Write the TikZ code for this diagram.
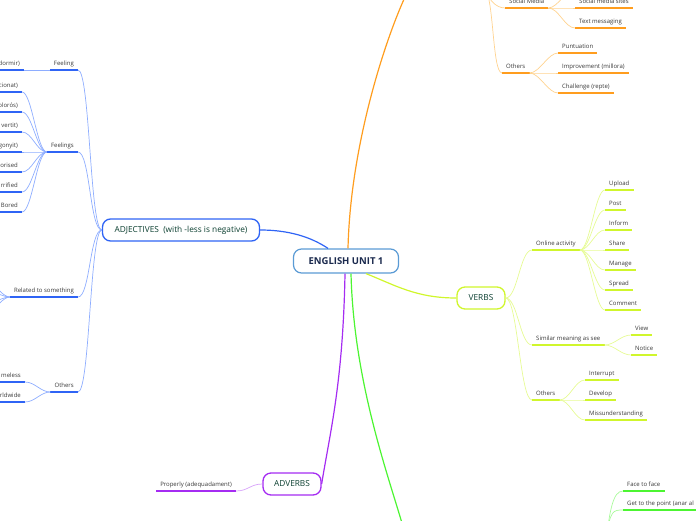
\documentclass[tikz,border=0pt]{standalone}
\usepackage{fontspec}
\setmainfont{Open Sans}
\usetikzlibrary{positioning,calc}
\definecolor{adjblue}{HTML}{2F64F5}
\definecolor{adjlight}{HTML}{8EADFF}
\definecolor{verbgreen}{HTML}{D0F62C}
\definecolor{verblight}{HTML}{E6FB94}
\definecolor{advpurple}{HTML}{A52CF2}
\definecolor{advlight}{HTML}{D7A2FA}
\definecolor{orangemain}{HTML}{FF9D1E}
\definecolor{orangelight}{HTML}{FFD38F}
\definecolor{greenmain}{HTML}{4CF531}
\definecolor{greenlight}{HTML}{A8FA9A}
\definecolor{rootline}{HTML}{5B9BD5}
\definecolor{roottext}{HTML}{1B2A4E}
\definecolor{topictext}{HTML}{0B3F30}
\definecolor{leaftext}{HTML}{383838}

\begin{document}
\begin{tikzpicture}[x=1pt, y=-1pt,
    root/.style={draw=rootline, line width=1.2pt, rounded corners=8pt, fill=white, minimum width=105pt, minimum height=24pt, font=\fontsize{9.5}{10}\selectfont\bfseries, text=roottext},
    mainbox/.style={draw=#1, line width=1.3pt, rounded corners=8pt, fill=white, minimum height=22pt, inner xsep=6pt, font=\fontsize{8.3}{9}\selectfont, text=topictext},
    sub/.style={inner xsep=4pt, inner ysep=3.5pt, text depth=1.3pt, font=\fontsize{6}{7}\selectfont, text=leaftext,
        append after command={(\tikzlastnode.south west) edge[draw=#1, line width=1.6pt] (\tikzlastnode.south east)}},
    link/.style={draw=#1, line width=1.2pt},
    twig/.style={draw=#1, line width=0.7pt}
]
\useasboundingbox (0,0) rectangle (696,520);
\clip (0,0) rectangle (696,520);

\node[root] (root) at (346,261) {ENGLISH UNIT 1};

% adjectives
\node[mainbox=adjblue, minimum width=157pt] (adj) at (181,230) {ADJECTIVES\ \ (with -less is negative)};
\node[sub=adjblue, anchor=south east] (feeling) at (78,70) {Feeling};
\node[sub=adjblue, anchor=south east] (dormir) at (24,70) {dormir)};
\node[sub=adjblue, anchor=south east] (feelings) at (78,152) {Feelings};
\foreach \t [count=\i] in {cionat), olorós), vertit), gonyit), orised, rrified, Bored}
  \node[sub=adjblue, anchor=south east] (fs\i) at (22,{72+20*\i}) {\t};
\node[sub=adjblue, anchor=south east] (related) at (78,297) {Related to something};
\node[sub=adjblue, anchor=south east] (aothers) at (78,392) {Others};
\node[sub=adjblue, anchor=south east] (homeless) at (25,382) {meless};
\node[sub=adjblue, anchor=south east] (worldwide) at (25,402) {rldwide};
\coordinate (rs1) at (-30,262);
\coordinate (rs2) at (-30,282);
\coordinate (rs3) at (-30,312);
\coordinate (rs4) at (-30,332);

\draw[link=adjblue] (adj.east) .. controls +(35,0) and +(-12,-8) .. ([xshift=-18pt]root.north);
\foreach \n in {feeling, feelings, related, aothers}
  \draw[twig=adjlight] (adj.west) .. controls +(-12,0) and +(12,0) .. (\n.south east);
\draw[twig=adjlight] (feeling.south west) -- (dormir.south east);
\foreach \i in {1,...,7}
  \draw[twig=adjlight] (feelings.south west) .. controls +(-10,0) and +(10,0) .. (fs\i.south east);
\foreach \i in {1,...,4}
  \draw[twig=adjlight] (related.south west) .. controls +(-12,0) and +(12,0) .. (rs\i);
\foreach \n in {homeless, worldwide}
  \draw[twig=adjlight] (aothers.south west) .. controls +(-10,0) and +(10,0) .. (\n.south east);

% verbs
\node[mainbox=verbgreen, minimum width=48pt] (verbs) at (481,298) {VERBS};
\node[sub=verbgreen, anchor=south west] (online) at (532,250) {Online activity};
\node[sub=verbgreen, anchor=south west] (similar) at (532,345) {Similar meaning as see};
\node[sub=verbgreen, anchor=south west] (vothers) at (532,400) {Others};
\foreach \t [count=\i] in {Upload, Post, Inform, Share, Manage, Spread, Comment}
  \node[sub=verbgreen, anchor=south west] (oa\i) at (605,{170+20*\i}) {\t};
\node[sub=verbgreen, anchor=south west] (view) at (631,335) {View};
\node[sub=verbgreen, anchor=south west] (notice) at (631,355) {Notice};
\node[sub=verbgreen, anchor=south west] (interrupt) at (585,380) {Interrupt};
\node[sub=verbgreen, anchor=south west] (develop) at (585,400) {Develop};
\node[sub=verbgreen, anchor=south west] (missund) at (585,420) {Missunderstanding};

\draw[link=verbgreen] ([xshift=20pt]root.south) .. controls +(30,12) and +(-40,0) .. (verbs.west);
\foreach \n in {online, similar, vothers}
  \draw[twig=verblight] (verbs.east) .. controls +(12,0) and +(-12,0) .. (\n.south west);
\foreach \i in {1,...,7}
  \draw[twig=verblight] (online.south east) .. controls +(10,0) and +(-10,0) .. (oa\i.south west);
\foreach \n in {view, notice}
  \draw[twig=verblight] (similar.south east) .. controls +(10,0) and +(-10,0) .. (\n.south west);
\foreach \n in {interrupt, develop, missund}
  \draw[twig=verblight] (vothers.south east) .. controls +(10,0) and +(-10,0) .. (\n.south west);

% adverbs
\node[mainbox=advpurple, minimum width=58pt] (adverbs) at (292,484) {ADVERBS};
\node[sub=advpurple, anchor=south east] (properly) at (236,491) {Properly (adequadament)};
\draw[link=advpurple] ([xshift=-1pt]root.south) .. controls +(-2,110) and +(8,-50) .. (adverbs.east);
\draw[twig=advlight] (adverbs.west) .. controls +(-12,0) and +(12,0) .. (properly.south east);

% branch above
\coordinate (orangein) at (418,-25);
\coordinate (orangehub) at (484,-12);
\coordinate (socialup) at (578,-14);
\node[sub=orangemain, anchor=south west] (social) at (505,8) {Social Media};
\node[sub=orangemain, anchor=south west] (sites) at (575,8) {Social media sites};
\node[sub=orangemain, anchor=south west] (texting) at (575,28) {Text messaging};
\node[sub=orangemain, anchor=south west] (oothers) at (502,73) {Others};
\node[sub=orangemain, anchor=south west] (punt) at (558,53) {Puntuation};
\node[sub=orangemain, anchor=south west] (improve) at (558,73) {Improvement (millora)};
\node[sub=orangemain, anchor=south west] (challenge) at (558,93) {Challenge (repte)};
\draw[link=orangemain] ([xshift=2pt]root.north) .. controls +(3,-130) and +(-12,8) .. (orangein);
\draw[twig=orangelight] (orangehub) .. controls +(4,10) and +(-10,0) .. (social.south west);
\draw[twig=orangelight] (orangehub) .. controls +(10,5) and +(-10,0) .. (oothers.south west);
\foreach \n in {sites, texting, socialup}
  \draw[twig=orangelight] (social.south east) .. controls +(10,0) and +(-10,0) .. (\n.south west);
\foreach \n in {punt, improve, challenge}
  \draw[twig=orangelight] (oothers.south east) .. controls +(10,0) and +(-10,0) .. (\n.south west);

% branch below
\coordinate (greenin) at (408,545);
\coordinate (greenhub) at (606,540);
\node[sub=greenmain, anchor=south west] (facetoface) at (623,491) {Face to face};
\node[sub=greenmain, anchor=south west] (point) at (623,510) {Get to the point (anar al};
\draw[link=greenmain] ([xshift=5pt]root.south) .. controls +(3,120) and +(-12,-50) .. (greenin);
\foreach \n in {facetoface, point}
  \draw[twig=greenlight] (greenhub) .. controls +(4,-30) and +(-10,0) .. (\n.south west);
\end{tikzpicture}
\end{document}
